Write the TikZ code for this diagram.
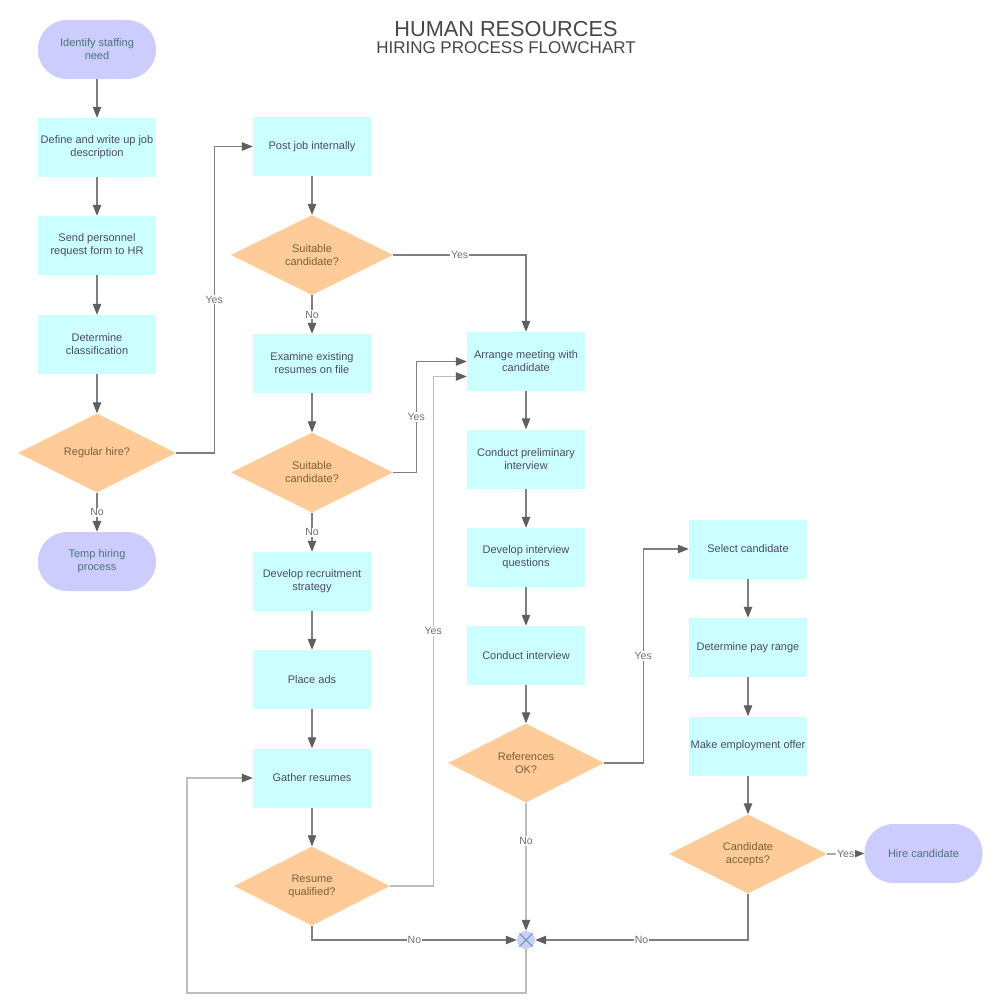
\documentclass[tikz,border=0pt]{standalone}
\usepackage{fontspec}
\setmainfont{Liberation Sans}
\usetikzlibrary{shapes.geometric,arrows.meta}

\definecolor{procfill}{HTML}{CCFFFF}
\definecolor{decfill}{HTML}{FFCC99}
\definecolor{termfill}{HTML}{CCCCFF}
\definecolor{proctext}{HTML}{4A4A68}
\definecolor{dectext}{HTML}{7A6038}
\definecolor{termtext}{HTML}{4A7478}
\definecolor{linegray}{HTML}{7F7F7F}
\definecolor{lightline}{HTML}{BDBDBD}
\definecolor{tipgray}{HTML}{5F5F5F}
\definecolor{labgray}{HTML}{6F6F6F}
\definecolor{crossteal}{HTML}{4A9A9A}

\tikzset{
  boxfont/.style={font=\fontsize{11}{13}\selectfont},
  proc/.style={rectangle, fill=procfill, text=proctext, minimum width=118pt,
    minimum height=59pt, inner sep=0pt, align=center, boxfont},
  decision/.style={diamond, fill=decfill, text=dectext, minimum width=158pt,
    minimum height=79pt, inner sep=0pt, align=center, boxfont},
  term/.style={rectangle, rounded corners=29pt, fill=termfill, text=termtext,
    minimum width=118pt, minimum height=59pt, inner sep=0pt, align=center, boxfont},
  flow/.style={draw=linegray, line width=1.2pt,
    -{Triangle[length=11pt,width=8.5pt,color=tipgray]}},
  lab/.style={fill=white, text=labgray, inner sep=1pt,
    font=\fontsize{10.5}{12}\selectfont},
}

\begin{document}
\begin{tikzpicture}[x=1pt,y=-1pt]
\fill [white] (0,0) rectangle (1000,1000);
\useasboundingbox (0,0) rectangle (1000,1000);

% Title
\node [text=black!72, font=\fontsize{21.7}{24}\selectfont] (title) at (506,29) {HUMAN RESOURCES};
\node [text=black!72, font=\fontsize{17}{20}\selectfont] (subtitle) at (506,48) {HIRING PROCESS FLOWCHART};

% Start and end points
\node [term] (start) at (97,49.5) {Identify staffing\\need};
\node [term] (temp) at (97,561.5) {Temp hiring\\process};
\node [term] (hire) at (923.5,853.5) {Hire candidate};

% Process steps
\foreach \name/\x/\y/\txt in {
  define/97/147.5/{Define and write up job\\description},
  send/97/245.5/{Send personnel\\request form to HR},
  class/97/344.5/{Determine\\classification},
  post/312/146.5/{Post job internally},
  exam/312/363.5/{Examine existing\\resumes on file},
  dev/312/581.5/{Develop recruitment\\strategy},
  ads/312/679.5/{Place ads},
  gather/312/778/{Gather resumes},
  arr/526/361.5/{Arrange meeting with\\candidate},
  prelim/526/459/{Conduct preliminary\\interview},
  quest/526/557.5/{Develop interview\\questions},
  cint/526/655.5/{Conduct interview},
  sel/748/549/{Select candidate},
  pay/748/647.5/{Determine pay range},
  offer/748/746/{Make employment offer}} {
  \node [proc] (\name) at (\x,\y) {\txt};
}

% Decisions
\node [decision] (rh) at (97,453) {Regular hire?};
\node [decision, minimum width=162pt, minimum height=80pt] (sc1) at (312,255) {Suitable\\candidate?};
\node [decision, minimum width=162pt, minimum height=80pt] (sc2) at (312,472.5) {Suitable\\candidate?};
\node [decision, minimum width=156pt] (rq) at (312,886) {Resume\\qualified?};
\node [decision, minimum width=156pt] (ref) at (526,763) {References\\OK?};
\node [decision] (ca) at (748,854) {Candidate\\accepts?};

% Merge point
\node [circle, fill=termfill, minimum size=18pt, inner sep=0pt] (mg) at (526,940) {};
\draw [crossteal, line width=0.8pt] (mg.north east) -- (mg.south west);
\draw [crossteal, line width=0.8pt] (mg.north west) -- (mg.south east);

% Straight arrows down each column
\foreach \a/\b in {start/define, define/send, send/class, class/rh,
  post/sc1, exam/sc2, dev/ads, ads/gather, gather/rq,
  arr/prelim, prelim/quest, quest/cint, cint/ref,
  sel/pay, pay/offer, offer/ca} {
  \draw [flow] (\a) -- (\b);
}

% Yes / No branches
\draw [flow] (rh) -- node [lab] {No} (temp);
\draw [flow] (rh.east) -- ++(38,0) |- node [lab, pos=0.25] {Yes} (post.west);
\draw [flow] (sc1) -- node [lab] {No} (exam);
\draw [flow] (sc1.east) -| node [lab, pos=0.25] {Yes} (arr.north);
\draw [flow] (sc2) -- node [lab] {No} (dev);
\draw [flow] (sc2.east) -- ++(23,0) |- node [lab, pos=0.25] {Yes} (arr.west);
\draw [flow, draw=lightline] (rq.east) -- ++(43,0) |- node [lab, pos=0.25] {Yes} ([yshift=-15pt]arr.west);
\draw [flow] (rq.south) |- node [lab, pos=0.75] {No} (mg.west);
\draw [flow, draw=lightline] (ref.south) -- node [lab, pos=0.3] {No} (mg.north);
\draw [flow] (ref.east) -- ++(39,0) |- node [lab, pos=0.25] {Yes} (sel.west);
\draw [flow] (ca.south) |- node [lab, pos=0.75] {No} (mg.east);
\draw [flow] (ca.east) -- node [lab] {Yes} (hire.west);

% Loop back to gathering resumes
\coordinate (loop) at (187,993);
\draw [flow, draw=lightline] (mg.south) |- (loop) |- (gather.west);
\end{tikzpicture}
\end{document}
